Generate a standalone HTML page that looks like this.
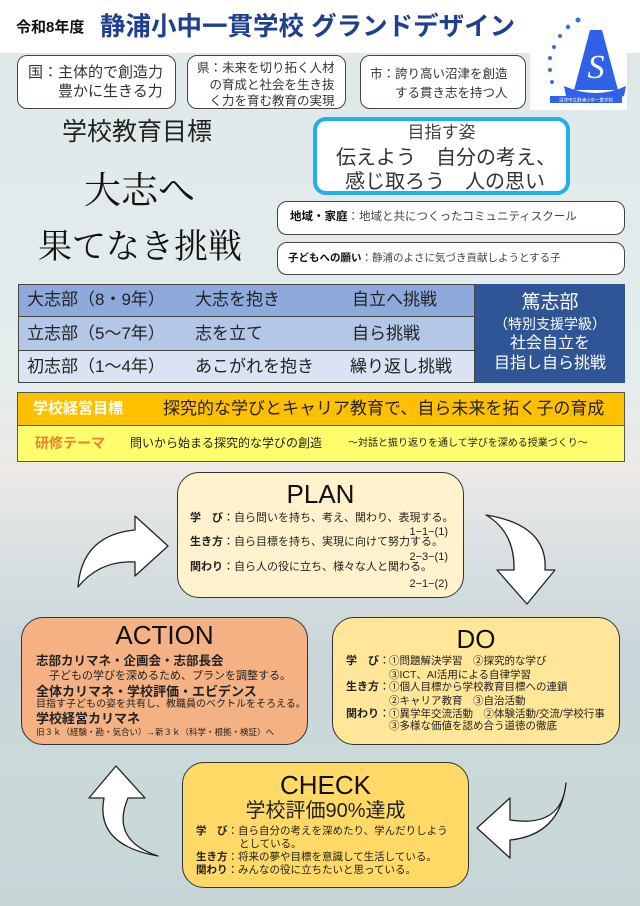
<!DOCTYPE html>
<html><head><meta charset="utf-8"><style>
*{margin:0;padding:0;box-sizing:border-box}
body{width:640px;height:906px;position:relative;overflow:hidden;font-family:"Liberation Sans","Noto Sans CJK JP",sans-serif;color:#222;
background:linear-gradient(180deg,#dfe8ea 0px,#e4ecec 380px,#ece9e6 470px,#d8dfe2 560px,#c8d6d9 660px,#cbd9da 760px,#c6d6d7 906px)}
.a{position:absolute;white-space:nowrap}
.box{position:absolute;border:1.5px solid #444;border-radius:10px;background:#fff}
.rb{position:absolute;border:1.5px solid #333;border-radius:22px}
.t{position:absolute;white-space:nowrap;line-height:1}
b{font-weight:bold}
</style></head><body>
<div class="a" style="left:0;top:0;width:640px;height:53px;background:#fff"></div>
<div class="t" style="left:16px;top:20px;font-size:15px;font-weight:bold;color:#111">令和8年度</div>
<div class="t" style="left:100px;top:15px;font-size:25.5px;font-weight:bold;color:#1f3f8f">静浦小中一貫学校 グランドデザイン</div>

<!-- logo -->
<div class="a" style="left:530px;top:40px;width:97px;height:70px;background:#fff"></div>
<svg class="a" style="left:530px;top:10px" width="97" height="100" viewBox="0 0 97 100">
<g fill="#3b6fe0"><circle cx="48" cy="10" r="2.5"/><circle cx="38" cy="17" r="2.2"/><circle cx="30" cy="26" r="2"/><circle cx="24" cy="37" r="2"/><circle cx="20" cy="48" r="2"/><circle cx="20" cy="60" r="2"/><circle cx="22" cy="72" r="2"/></g>
<polygon points="60,20 44,80 88,80 72,20" fill="#2f62e6"/>
<text x="66" y="68" font-family="Liberation Serif,serif" font-size="34" font-style="italic" fill="#fff" text-anchor="middle">S</text>
<path d="M34 76 Q66 90 96 76 L94 86 Q66 96 36 86Z" fill="#2f62e6"/>
<rect x="20" y="86" width="72" height="7" fill="#2f62e6"/>
<text x="56" y="91.5" font-size="4.5" fill="#fff" text-anchor="middle">沼津市立静浦小中一貫学校</text>
</svg>

<div class="box" style="left:17px;top:55px;width:159px;height:54px"></div>
<div class="t" style="left:28px;top:65px;font-size:15px;color:#333">国：主体的で創造力</div>
<div class="t" style="left:58px;top:84px;font-size:15px;color:#333">豊かに生きる力</div>
<div class="box" style="left:187px;top:55px;width:159px;height:54px"></div>
<div class="t" style="left:197px;top:60px;font-size:12.5px;color:#333;line-height:16.5px">県：未来を切り拓く人材<br>　の育成と社会を生き抜<br>　く力を育む教育の実現</div>
<div class="box" style="left:360px;top:55px;width:166px;height:54px"></div>
<div class="t" style="left:370px;top:65px;font-size:12.5px;color:#333;line-height:19px">市：誇り高い沼津を創造<br>　　する貫き志を持つ人</div>

<div class="t" style="left:62px;top:120px;font-size:25px;color:#222">学校教育目標</div>
<div class="t" style="left:84px;top:173px;font-size:37px;font-family:'Liberation Serif','Noto Serif CJK JP',serif;color:#111">大志へ</div>
<div class="t" style="left:38px;top:231px;font-size:34px;font-family:'Liberation Serif','Noto Serif CJK JP',serif;color:#111">果てなき挑戦</div>

<div class="a" style="left:313px;top:117px;width:257px;height:78px;border:4px solid #20b0ea;border-radius:13px;background:#fff"></div>
<div class="t" style="left:313px;width:257px;text-align:center;top:124px;font-size:17px;color:#444">目指す姿</div>
<div class="t" style="left:336px;top:148px;font-size:20px;color:#333">伝えよう　自分の考え、</div>
<div class="t" style="left:345px;top:172px;font-size:20px;color:#333">感じ取ろう　人の思い</div>

<div class="box" style="left:277px;top:201px;width:348px;height:34px"></div>
<div class="t" style="left:290px;top:212px;font-size:11.5px;color:#444"><b style="color:#111">地域・家庭</b>：地域と共につくったコミュニティスクール</div>
<div class="box" style="left:277px;top:242px;width:348px;height:33px"></div>
<div class="t" style="left:288px;top:253px;font-size:10.5px;color:#444"><b style="color:#111">子どもへの願い</b>：静浦のよさに気づき貢献しようとする子</div>

<!-- table -->
<div class="a" style="left:18px;top:284px;width:457px;height:33px;background:#8eaadc;border:1px solid #444"></div>
<div class="a" style="left:18px;top:317px;width:457px;height:34px;background:#b4c7e7;border:1px solid #444;border-top:0"></div>
<div class="a" style="left:18px;top:351px;width:457px;height:32px;background:#dae3f3;border:1px solid #444;border-top:0"></div>
<div class="a" style="left:475px;top:284px;width:150px;height:99px;background:#2f5597"></div>
<div class="t" style="left:27px;top:291px;font-size:17px;color:#222">大志部（8・9年）</div><div class="t" style="left:195px;top:291px;font-size:17px">大志を抱き</div><div class="t" style="left:352px;top:291px;font-size:17px">自立へ挑戦</div>
<div class="t" style="left:27px;top:325px;font-size:17px;color:#222">立志部（5～7年）</div><div class="t" style="left:195px;top:325px;font-size:17px">志を立て</div><div class="t" style="left:352px;top:325px;font-size:17px">自ら挑戦</div>
<div class="t" style="left:27px;top:358px;font-size:17px;color:#222">初志部（1～4年）</div><div class="t" style="left:195px;top:358px;font-size:17px">あこがれを抱き</div><div class="t" style="left:350px;top:358px;font-size:17px">繰り返し挑戦</div>
<div class="t" style="left:475px;width:150px;text-align:center;top:293px;font-size:19px;color:#fff">篤志部</div>
<div class="t" style="left:475px;width:150px;text-align:center;top:317px;font-size:14px;color:#fff">（特別支援学級）</div>
<div class="t" style="left:475px;width:150px;text-align:center;top:336px;font-size:16px;color:#fff">社会自立を</div>
<div class="t" style="left:475px;width:150px;text-align:center;top:356px;font-size:16px;color:#fff">目指し自ら挑戦</div>

<div class="a" style="left:17px;top:392px;width:608px;height:34px;background:#ffc000;border:1px solid #555"></div>
<div class="a" style="left:17px;top:426px;width:608px;height:36px;background:#ffff6e;border:1px solid #555;border-top:0"></div>
<div class="t" style="left:33px;top:401px;font-size:15px;font-weight:bold;color:#fff">学校経営目標</div>
<div class="t" style="left:163px;top:400px;font-size:17px;color:#222">探究的な学びとキャリア教育で、自ら未来を拓く子の育成</div>
<div class="t" style="left:35px;top:436px;font-size:14px;font-weight:bold;color:#ee7d31">研修テーマ</div>
<div class="t" style="left:130px;top:437px;font-size:12px;color:#222">問いから始まる探究的な学びの創造</div>
<div class="t" style="left:348px;top:439px;font-size:10px;color:#222">～対話と振り返りを通して学びを深める授業づくり～</div>

<!-- arrows -->
<svg class="a" style="left:0;top:0" width="640" height="906">
<g fill="#fff" stroke="#222" stroke-width="1.3" stroke-linejoin="round">
<path d="M78 587 Q82 535 135 530 L135 516 L168 546 L135 576 L135 562 Q100 560 78 587Z"/>
<path d="M486 515 Q548 525 545 570 L555 570 L527 604 L497 570 L514 570 Q515 532 486 515Z"/>
<path d="M566 783 Q562 828 510 820 L510 798 L477 828 L510 858 L510 840 Q560 835 566 783Z"/>
<path d="M158 856 Q110 840 128 798 L145 798 L116 766 L89 798 L104 798 Q95 845 158 856Z"/>
</g></svg>

<!-- PLAN -->
<div class="rb" style="left:177px;top:472px;width:287px;height:126px;background:#fff2cc"></div>
<div class="t" style="left:177px;width:287px;text-align:center;top:481px;font-size:26px;color:#111">PLAN</div>
<div class="t" style="left:190px;top:513px;font-size:11px"><b>学　び</b>：自ら問いを持ち、考え、関わり、表現する。</div>
<div class="t" style="left:390px;width:58px;text-align:right;top:527px;font-size:11px">1−1−(1)</div>
<div class="t" style="left:190px;top:537px;font-size:11px"><b>生き方</b>：自ら目標を持ち、実現に向けて努力する。</div>
<div class="t" style="left:390px;width:58px;text-align:right;top:552px;font-size:11px">2−3−(1)</div>
<div class="t" style="left:190px;top:562px;font-size:11px"><b>関わり</b>：自ら人の役に立ち、様々な人と関わる。</div>
<div class="t" style="left:390px;width:58px;text-align:right;top:579px;font-size:11px">2−1−(2)</div>

<!-- ACTION -->
<div class="rb" style="left:21px;top:617px;width:287px;height:128px;background:#f4b183"></div>
<div class="t" style="left:21px;width:287px;text-align:center;top:622px;font-size:26px;color:#111">ACTION</div>
<div class="t" style="left:36px;top:655px;font-size:12.5px;font-weight:bold">志部カリマネ・企画会・志部長会</div>
<div class="t" style="left:49px;top:671px;font-size:11px">子どもの学びを深めるため、プランを調整する。</div>
<div class="t" style="left:36px;top:685px;font-size:13px;font-weight:bold">全体カリマネ・学校評価・エビデンス</div>
<div class="t" style="left:36px;top:700px;font-size:10px">目指す子どもの姿を共有し、教職員のベクトルをそろえる。</div>
<div class="t" style="left:36px;top:712px;font-size:13px;font-weight:bold">学校経営カリマネ</div>
<div class="t" style="left:36px;top:728px;font-size:8.5px">旧３ｋ（経験・勘・気合い）→新３ｋ（科学・根拠・検証）へ</div>

<!-- DO -->
<div class="rb" style="left:332px;top:617px;width:288px;height:128px;background:#ffe699"></div>
<div class="t" style="left:332px;width:288px;text-align:center;top:626px;font-size:26px;color:#111">DO</div>
<div class="t" style="left:346px;top:656px;font-size:11px"><b>学　び</b>：</div>
<div class="t" style="left:346px;top:682px;font-size:11px"><b>生き方</b>：</div>
<div class="t" style="left:346px;top:709px;font-size:11px"><b>関わり</b>：</div>
<div class="t" style="left:389px;top:656px;font-size:10.5px">①問題解決学習　②探究的な学び</div>
<div class="t" style="left:389px;top:670px;font-size:10.5px">③ICT、AI活用による自律学習</div>
<div class="t" style="left:389px;top:682px;font-size:10.5px">①個人目標から学校教育目標への連鎖</div>
<div class="t" style="left:389px;top:696px;font-size:10.5px">②キャリア教育　③自治活動</div>
<div class="t" style="left:389px;top:709px;font-size:10.5px">①異学年交流活動　②体験活動/交流/学校行事</div>
<div class="t" style="left:389px;top:721px;font-size:10.5px">③多様な価値を認め合う道徳の徹底</div>

<!-- CHECK -->
<div class="rb" style="left:182px;top:762px;width:287px;height:126px;background:#ffd966"></div>
<div class="t" style="left:182px;width:287px;text-align:center;top:772px;font-size:26px;color:#111">CHECK</div>
<div class="t" style="left:182px;width:287px;text-align:center;top:801px;font-size:20px;color:#222">学校評価90%達成</div>
<div class="t" style="left:196px;top:826px;font-size:10.5px"><b>学　び</b>：自ら自分の考えを深めたり、学んだりしよう</div>
<div class="t" style="left:239px;top:839px;font-size:10.5px">としている。</div>
<div class="t" style="left:196px;top:852px;font-size:10.5px"><b>生き方</b>：将来の夢や目標を意識して生活している。</div>
<div class="t" style="left:196px;top:865px;font-size:10.5px"><b>関わり</b>：みんなの役に立ちたいと思っている。</div>
</body></html>
